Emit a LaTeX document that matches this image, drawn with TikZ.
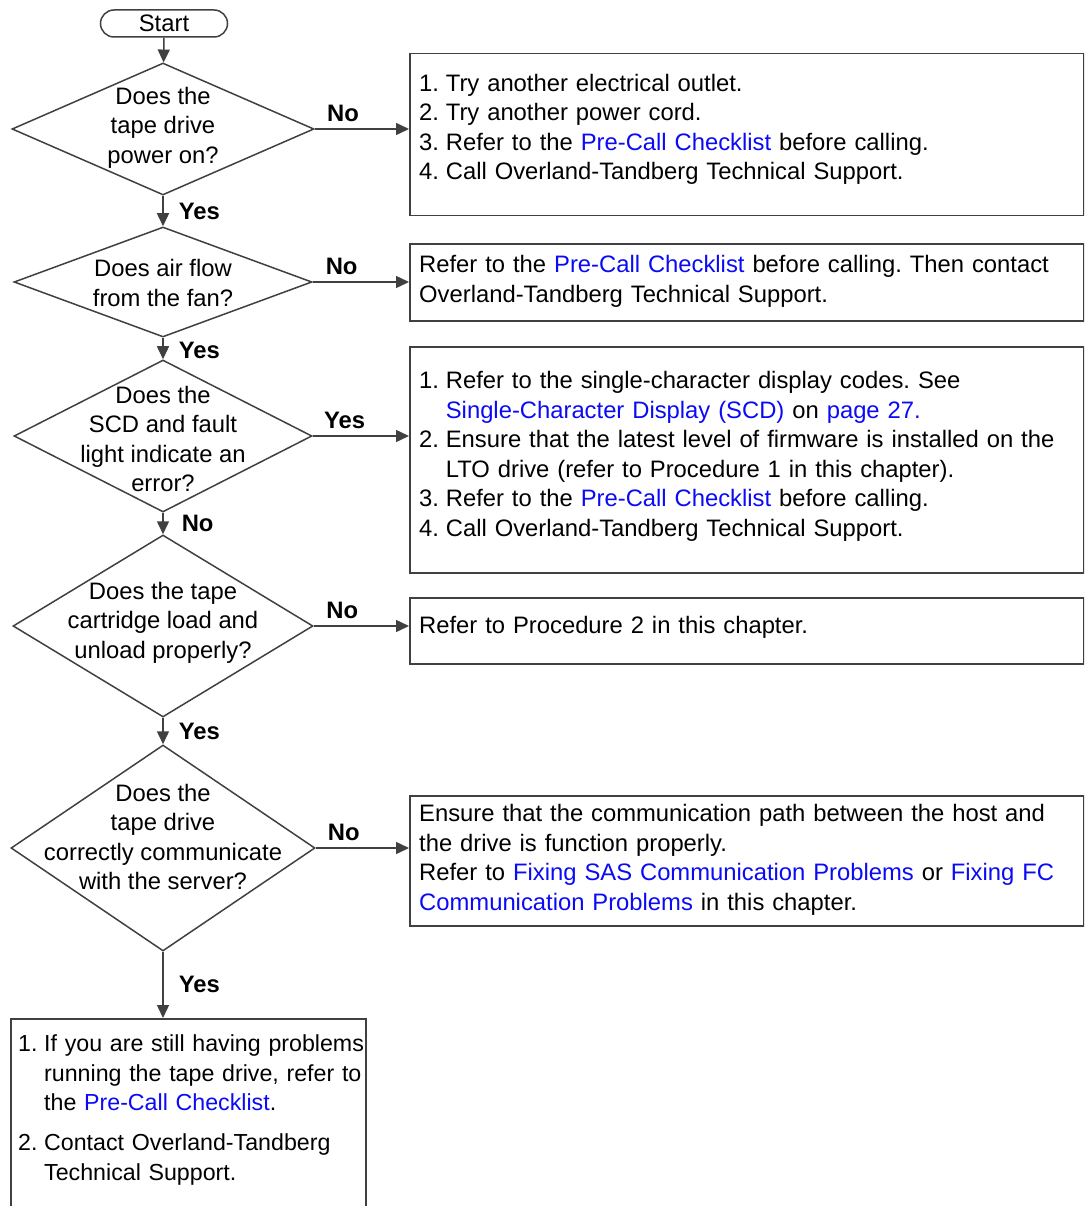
\documentclass[tikz,border=0pt]{standalone}
\usepackage{fontspec}
\setmainfont{Liberation Sans}
\usetikzlibrary{arrows.meta,positioning,calc,shapes.geometric}

\definecolor{linkblue}{RGB}{10,10,245}
\definecolor{linegray}{RGB}{64,64,64}
\newcommand{\lnk}[1]{\textcolor{linkblue}{#1}}
\newcommand{\itemno}[1]{\makebox[1.12em][l]{#1}}
\newcommand{\indentno}{\hspace*{1.12em}}
\frenchspacing

\begin{document}
\begin{tikzpicture}[x=1pt, y=-1pt,
            every node/.style={font=\fontsize{23.8}{29.5}\selectfont},
            startbox/.style={draw=linegray, line width=1.5pt, rounded corners=13.5pt,
                             minimum width=127pt, minimum height=27pt, inner sep=0pt},
            question/.style={draw=linegray, line width=1.5pt, diamond, inner sep=0pt},
            qtext/.style={align=center, inner sep=0pt},
            infobox/.style={draw=linegray, line width=1.5pt, rectangle, inner sep=0pt,
                            minimum width=674pt, anchor=north west},
            boxtext/.style={text width=660pt, align=left, inner sep=0pt, anchor=base west},
            flow/.style={draw=linegray, line width=1.5pt, -{Triangle[length=13pt,width=12pt]}},
            answer/.style={font=\fontsize{23.8}{29.5}\selectfont\bfseries, inner sep=0pt}]
        \useasboundingbox (0,0) rectangle (1084,1206);
        \clip (0,0) rectangle (1084,1206);

        % questions
        \node[startbox] (start) at (164,23.5) {Start};
        \node[question, minimum width=302pt, minimum height=132pt] (q1) at (163,129) {};
        \node[qtext] (q1t) at (163,127.5) {Does the\\tape drive\\power on?};
        \node[question, minimum width=298pt, minimum height=110pt] (q2) at (163,282) {};
        \node[qtext] (q2t) at (163,283) {Does air flow\\from the fan?};
        \node[question, minimum width=298pt, minimum height=152pt] (q3) at (163,436) {};
        \node[qtext] (q3t) at (163,439) {Does the\\SCD and fault\\light indicate an\\error?};
        \node[question, minimum width=300pt, minimum height=182pt] (q4) at (163,626) {};
        \node[qtext] (q4t) at (163,622.5) {Does the tape\\cartridge load and\\unload properly?};
        \node[question, minimum width=304pt, minimum height=206pt] (q5) at (163,848) {};
        \node[qtext] (q5t) at (163,837) {Does the\\tape drive\\correctly communicate\\with the server?};

        % actions
        \node[infobox, minimum height=162pt] (r1) at (409,53) {};
        \node[boxtext] (r1t) at ($(r1.north west)+(10,38.5)$)
            {\itemno{1.}Try another electrical outlet.\\
             \itemno{2.}Try another power cord.\\
             \itemno{3.}Refer to the \lnk{Pre-Call Checklist} before calling.\\
             \itemno{4.}Call Overland-Tandberg Technical Support.};
        \node[infobox, minimum height=77pt] (r2) at (409,243) {};
        \node[boxtext] (r2t) at ($(r2.north west)+(10,29.5)$)
            {Refer to the \lnk{Pre-Call Checklist} before calling. Then contact\\
             Overland-Tandberg Technical Support.};
        \node[infobox, minimum height=226pt] (r3) at (409,346) {};
        \node[boxtext] (r3t) at ($(r3.north west)+(10,42.5)$)
            {\itemno{1.}Refer to the single-character display codes. See\\
             \indentno\lnk{Single-Character Display (SCD)} on \lnk{page 27.}\\
             \itemno{2.}Ensure that the latest level of firmware is installed on the\\
             \indentno LTO drive (refer to Procedure 1 in this chapter).\\
             \itemno{3.}Refer to the \lnk{Pre-Call Checklist} before calling.\\
             \itemno{4.}Call Overland-Tandberg Technical Support.};
        \node[infobox, minimum height=66pt] (r4) at (409,597) {};
        \node[boxtext] (r4t) at ($(r4.north west)+(10,36.5)$)
            {Refer to Procedure 2 in this chapter.};
        \node[infobox, minimum height=130pt] (r5) at (409,795) {};
        \node[boxtext] (r5t) at ($(r5.north west)+(10,26.5)$)
            {Ensure that the communication path between the host and\\
             the drive is function properly.\\
             Refer to \lnk{Fixing SAS Communication Problems} or \lnk{Fixing FC}\\
             \lnk{Communication Problems} in this chapter.};
        \node[infobox, minimum width=355pt, minimum height=240pt] (fin) at (10,1018) {};
        \node[boxtext, text width=420pt, font=\fontsize{23.2}{29.5}\selectfont] (fint)
            at ($(fin.north west)+(8,33.5)$)
            {\itemno{1.}If you are still having problems\\
             \indentno running the tape drive, refer to\\
             \indentno the \lnk{Pre-Call Checklist}.\\[10.5pt]
             \itemno{2.}Contact Overland-Tandberg\\
             \indentno Technical Support.};

        % connectors
        \draw[flow] (start) -- (q1);
        \draw[flow] (q1) -- node[answer, anchor=west, xshift=15pt] {Yes} (q2);
        \draw[flow] (q2) -- node[answer, anchor=west, xshift=15pt, yshift=-2pt] {Yes} (q3);
        \draw[flow] (q3) -- node[answer, anchor=west, xshift=18pt] {No} (q4);
        \draw[flow] (q4) -- node[answer, anchor=west, xshift=15pt] {Yes} (q5);
        \draw[flow] (q5.south) -- node[answer, anchor=west, xshift=15pt] {Yes} (q5.south |- fin.north);
        \draw[flow] (q1.east) -- node[answer, anchor=base, pos=0.3, yshift=7.5pt] {No} (q1.east -| r1.west);
        \draw[flow] (q2.east) -- node[answer, anchor=base, pos=0.3, yshift=7.5pt] {No} (q2.east -| r2.west);
        \draw[flow] (q3.east) -- node[answer, anchor=base, pos=0.33, yshift=7.5pt] {Yes} (q3.east -| r3.west);
        \draw[flow] (q4.east) -- node[answer, anchor=base, pos=0.3, yshift=7.5pt] {No} (q4.east -| r4.west);
        \draw[flow] (q5.east) -- node[answer, anchor=base, pos=0.3, yshift=7.5pt] {No} (q5.east -| r5.west);
\end{tikzpicture}
\end{document}
